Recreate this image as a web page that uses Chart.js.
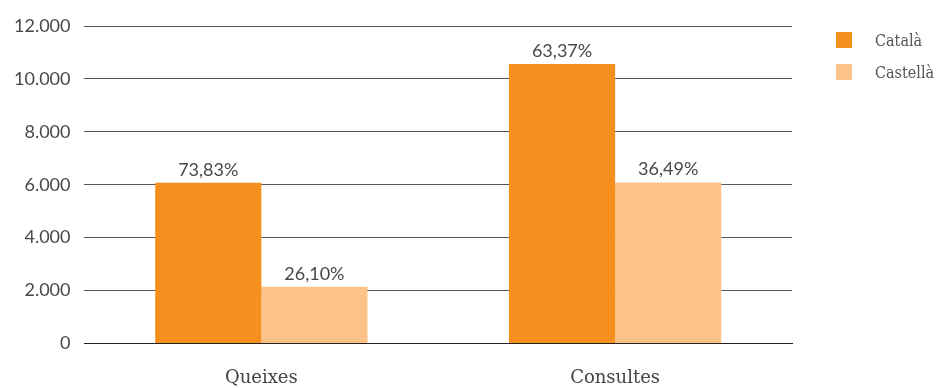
<!DOCTYPE html>
<html>
<head>
<meta charset="utf-8">
<script src="https://cdn.jsdelivr.net/npm/chart.js@4"></script>
<style>
  html, body { margin: 0; padding: 0; background: #fff; }
  #wrap { position: relative; width: 938px; height: 388px; }
  #legend { position: absolute; left: 836px; top: 24px; font-family: "DejaVu Serif Condensed", "DejaVu Serif", serif; font-stretch: condensed; font-size: 16px; color: #555; white-space: nowrap; }
  #legend div { display: flex; align-items: center; height: 32px; }
  #legend span.box { display: inline-block; width: 16px; height: 16px; margin-right: 23px; }
</style>
</head>
<body>
<div id="wrap">
  <canvas id="chart" width="938" height="388"></canvas>
  <div id="legend"></div>
</div>
<script>
const categories = ['Queixes', 'Consultes'];
const seriesNames = ['Català', 'Castellà'];
const catalaValues = [6070, 10560];
const castellaValues = [2140, 6085];
const catalaPct = ['73,83%', '63,37%'];
const castellaPct = ['26,10%', '36,49%'];
const yTicks = [0, 2000, 4000, 6000, 8000, 10000, 12000];
const colors = ['#f5901e', '#fcc287'];

const numFont = '"Lato", "Open Sans", sans-serif';
const serifFont = '"DejaVu Serif", serif';

// etiquetes de percentatge sobre cada barra
const pctLabels = {
    id: 'pctLabels',
    afterDatasetsDraw(chart) {
        const ctx = chart.ctx;
        ctx.save();
        ctx.font = '18px ' + numFont;
        ctx.fillStyle = '#484848';
        ctx.textAlign = 'center';
        ctx.textBaseline = 'bottom';
        chart.data.datasets.forEach((ds, i) => {
            chart.getDatasetMeta(i).data.forEach((bar, j) => {
                ctx.fillText(ds.pct[j], bar.x, bar.y - 4);
            });
        });
        ctx.restore();
    }
};

const chart = new Chart(document.getElementById('chart'), {
    type: 'bar',
    data: {
        labels: categories,
        datasets: [
            { label: seriesNames[0], data: catalaValues, pct: catalaPct, backgroundColor: colors[0] },
            { label: seriesNames[1], data: castellaValues, pct: castellaPct, backgroundColor: colors[1] }
        ]
    },
    options: {
        responsive: false,
        animation: false,
        layout: { padding: { top: 26, right: 146, bottom: -25, left: 0 } },
        datasets: { bar: { categoryPercentage: 0.6, barPercentage: 1.0 } },
        plugins: {
            legend: { display: false },
            tooltip: { enabled: false }
        },
        scales: {
            x: {
                grid: { display: false, drawTicks: false },
                border: { display: true, color: '#222', width: 1 },
                ticks: { padding: 24, color: '#444', font: { family: serifFont, size: 18 } }
            },
            y: {
                min: 0,
                max: 12000,
                afterBuildTicks(axis) { axis.ticks = yTicks.map(v => ({ value: v })); },
                grid: { color: '#555', lineWidth: 1, drawTicks: false },
                border: { display: false },
                ticks: {
                    padding: 14,
                    color: '#484848',
                    font: { family: numFont, size: 18 },
                    callback: v => v.toLocaleString('de-DE')
                }
            }
        }
    },
    plugins: [pctLabels]
});

// llegenda
const legend = document.getElementById('legend');
seriesNames.forEach((name, i) => {
    const row = document.createElement('div');
    row.innerHTML = '<span class="box" style="background:' + colors[i] + '"></span>' + name;
    legend.appendChild(row);
});
</script>
</body>
</html>
